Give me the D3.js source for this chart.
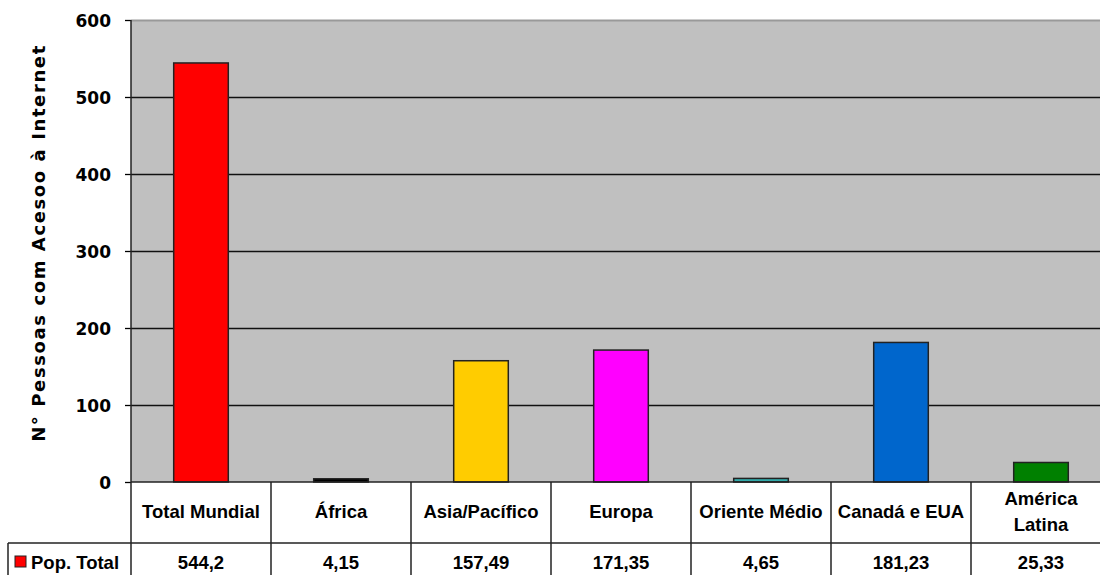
<!DOCTYPE html>
<html><head><meta charset="utf-8">
<script src="https://cdn.jsdelivr.net/npm/d3@7"></script>
<style>
html,body{margin:0;padding:0;background:#fff;}
svg{display:block;}
text{font-family:"Liberation Sans",Arial,sans-serif;font-weight:bold;fill:#000;}
</style></head>
<body>
<svg id="c" width="1100" height="575"></svg>
<script>
const categories = ["Total Mundial","África","Asia/Pacífico","Europa","Oriente Médio","Canadá e EUA","América Latina"];
const categoryLines = [["Total Mundial"],["África"],["Asia/Pacífico"],["Europa"],["Oriente Médio"],["Canadá e EUA"],["América","Latina"]];
const values = [544.2, 4.15, 157.49, 171.35, 4.65, 181.23, 25.33];
const valueLabels = ["544,2","4,15","157,49","171,35","4,65","181,23","25,33"];
const colors = ["#ff0000","#000000","#ffcc00","#ff00ff","#33aaaa","#0066cc","#008000"];
const yTicks = [0,100,200,300,400,500,600];
const seriesName = "Pop. Total";
const yTitle = "N° Pessoas com Acesoo à Internet";

(function(){
const svg = d3.select("#c");
const pL = 131, pR = 1111, pT = 20, pB = 482;
const rowLine = 543, tableBottom = 600;
const fs = 18.5;
const heavy = "'DejaVu Sans', Verdana, sans-serif";

const x = d3.scaleBand().domain(categories).range([pL, pR]).padding(0);
const y = d3.scaleLinear().domain([0, 600]).range([pB, pT]);

// plot background
svg.append("rect").attr("x", pL).attr("y", pT).attr("width", pR - pL).attr("height", pB - pT)
  .attr("fill", "#c0c0c0");
svg.append("line").attr("x1", pL).attr("x2", pR).attr("y1", pT + 0.5).attr("y2", pT + 0.5)
  .attr("stroke", "#999").attr("stroke-width", 2);

// gridlines
svg.append("g").selectAll("line").data(yTicks.filter(d => d > 0 && d < 600)).join("line")
  .attr("x1", pL).attr("x2", pR)
  .attr("y1", d => Math.round(y(d)) + 0.5).attr("y2", d => Math.round(y(d)) + 0.5)
  .attr("stroke", "#111").attr("stroke-width", 1.6);

// y axis
const yAxis = d3.axisLeft(y).tickValues(yTicks).tickSize(6).tickPadding(14);
const ga = svg.append("g").attr("transform", `translate(${pL},0)`).call(yAxis);
ga.select(".domain").remove();
ga.selectAll(".tick line").attr("stroke", "#000").attr("stroke-width", 1.3);
ga.selectAll(".tick text").style("font-size", "17px").style("font-family", heavy)
  .style("font-weight", "bold").attr("dy", "0.36em").attr("fill", "#000");

// bars
const bw = x.bandwidth() * 0.39;
svg.append("g").selectAll("rect").data(values).join("rect")
  .attr("x", (d, i) => x(categories[i]) + (x.bandwidth() - bw) / 2)
  .attr("y", d => y(d))
  .attr("width", bw)
  .attr("height", d => Math.max(1, y(0) - y(d)))
  .attr("fill", (d, i) => colors[i])
  .attr("stroke", "#222").attr("stroke-width", 1.5);

// axis line / table lines
const tl = svg.append("g").attr("stroke", "#222").attr("stroke-width", 1.5);
tl.append("line").attr("x1", pL).attr("x2", pR).attr("y1", pB).attr("y2", pB);
tl.append("line").attr("x1", 8).attr("x2", pR).attr("y1", rowLine).attr("y2", rowLine);
tl.append("line").attr("x1", pL).attr("x2", pL).attr("y1", pT).attr("y2", tableBottom);
tl.append("line").attr("x1", 8).attr("x2", 8).attr("y1", rowLine).attr("y2", tableBottom);
tl.selectAll(".col").data(categories).join("line")
  .attr("x1", d => x(d) + x.bandwidth()).attr("x2", d => x(d) + x.bandwidth())
  .attr("y1", pB).attr("y2", tableBottom);

// category labels
const catG = svg.append("g");
categoryLines.forEach((lines, i) => {
  const cx = x(categories[i]) + x.bandwidth() / 2;
  const t = catG.append("text").attr("text-anchor", "middle").attr("font-size", fs)
    .attr("x", cx);
  if (lines.length === 1) {
    t.attr("y", 518).text(lines[0]);
  } else {
    t.attr("y", 505).text(lines[0]);
    catG.append("text").attr("text-anchor", "middle").attr("font-size", fs)
      .attr("x", cx).attr("y", 531).text(lines[1]);
  }
});

// value labels
svg.append("g").selectAll("text").data(valueLabels).join("text")
  .attr("x", (d, i) => x(categories[i]) + x.bandwidth() / 2)
  .attr("y", 569).attr("text-anchor", "middle").attr("font-size", fs)
  .text(d => d);

// legend key
svg.append("rect").attr("x", 15).attr("y", 556).attr("width", 11).attr("height", 11)
  .attr("fill", colors[0]).attr("stroke", "#222").attr("stroke-width", 1);
svg.append("text").attr("x", 31).attr("y", 569).attr("font-size", fs).text(seriesName);

// y title
svg.append("text").attr("transform", `translate(45,243) rotate(-90)`)
  .attr("text-anchor", "middle").style("font-size", "18px").style("font-family", heavy)
  .attr("letter-spacing", 1.6).text(yTitle);
})();
</script>
</body></html>
